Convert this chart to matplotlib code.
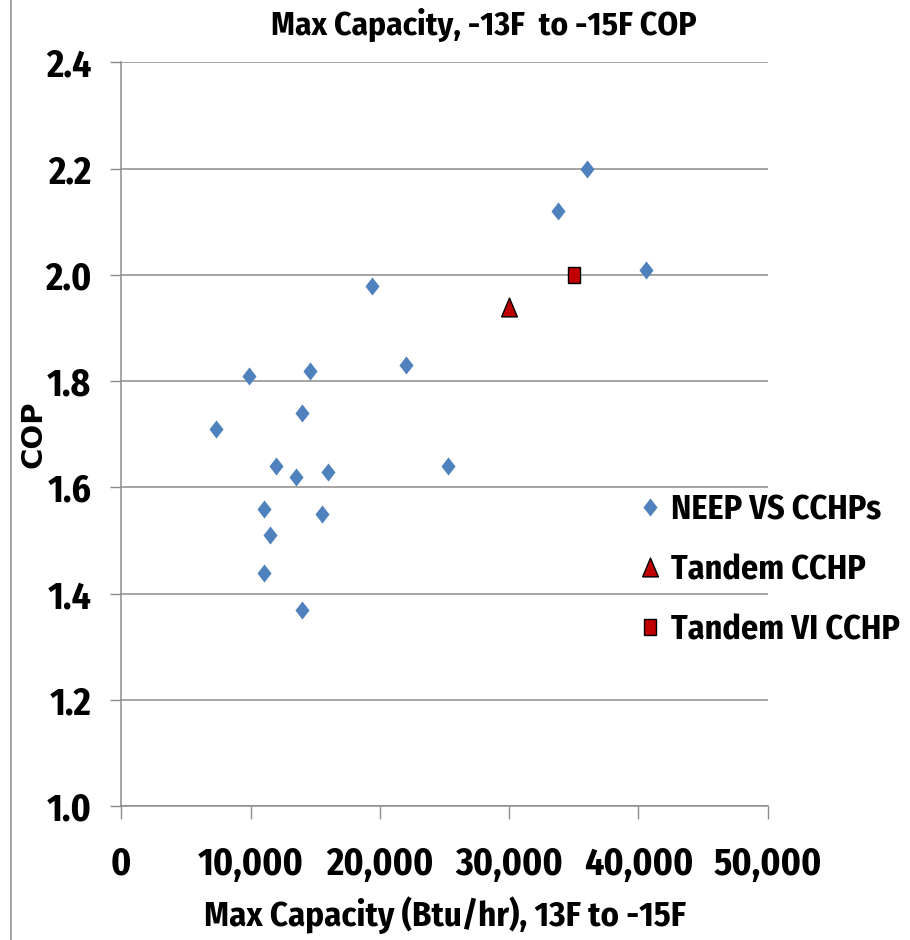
import matplotlib
matplotlib.use("Agg")
import matplotlib.pyplot as plt
from matplotlib import font_manager
from matplotlib.lines import Line2D

# NEEP cold-climate heat pumps: max capacity at -13F..-15F vs COP
neep_cap = [7300, 9900, 12000, 11000, 11500, 11000, 14000, 14600, 13500,
            16000, 15500, 14000, 19400, 22050, 25250, 33800, 36000, 40550]
neep_cop = [1.71, 1.81, 1.64, 1.56, 1.51, 1.44, 1.74, 1.82, 1.62,
            1.63, 1.55, 1.37, 1.98, 1.83, 1.64, 2.12, 2.20, 2.01]

tandem_cap = [30000]
tandem_cop = [1.94]

tandem_vi_cap = [35000]
tandem_vi_cop = [2.00]

x_ticks = [0, 10000, 20000, 30000, 40000, 50000]
y_ticks = [1.0, 1.2, 1.4, 1.6, 1.8, 2.0, 2.2, 2.4]

# pick a narrow humanist bold face if there is one
have = {f.name for f in font_manager.fontManager.ttflist}
narrow = [f for f in ["Fira Sans Condensed", "Barlow Condensed", "Carlito"] if f in have]
narrow = narrow[:1] + ["DejaVu Sans"]
grey = "#8c8c8c"

# taller-than-wide marker shapes, like the original
diamond = [(0, 0.5), (0.39, 0), (0, -0.5), (-0.39, 0), (0, 0.5)]
triangle = [(-0.42, -0.5), (0.42, -0.5), (0, 0.5), (-0.42, -0.5)]
square = [(-0.37, -0.5), (0.37, -0.5), (0.37, 0.5), (-0.37, 0.5), (-0.37, -0.5)]

fig = plt.figure(figsize=(9.1, 9.4), dpi=100)
ax = fig.add_axes([0.1333, 0.1422, 0.7104, 0.7915])

ax.plot(neep_cap, neep_cop, linestyle="none", marker=diamond, markersize=13,
        color="#4F81BD", markeredgewidth=0, label="NEEP VS CCHPs")
ax.plot(tandem_cap, tandem_cop, linestyle="none", marker=triangle, markersize=13.5,
        markerfacecolor="#C00000", markeredgecolor="black", markeredgewidth=1,
        label="Tandem CCHP")
ax.plot(tandem_vi_cap, tandem_vi_cop, linestyle="none", marker=square, markersize=11.5,
        markerfacecolor="#C00000", markeredgecolor="black", markeredgewidth=1,
        label="Tandem VI CCHP")

ax.set_xlim(0, 50000)
ax.set_ylim(1.0, 2.4)
ax.set_xticks(x_ticks)
ax.set_xticklabels([f"{v:,}" for v in x_ticks], family=narrow, weight="bold", fontsize=27)
ax.set_yticks(y_ticks)
ax.set_yticklabels([f"{v:.1f}" for v in y_ticks], family=narrow, weight="bold", fontsize=27)

ax.tick_params(axis="x", direction="out", length=9.5, width=1, color=grey, pad=19)
ax.tick_params(axis="y", direction="out", length=7.6, width=1, color=grey, pad=14)

ax.grid(axis="y", color=grey, linewidth=1.1)
ax.set_axisbelow(True)
for s in ["top", "right"]:
    ax.spines[s].set_visible(False)
for s in ["left", "bottom"]:
    ax.spines[s].set_color(grey)
    ax.spines[s].set_linewidth(1.1)

ax.set_xlabel("Max Capacity (Btu/hr), 13F to -15F", family=narrow, weight="bold",
              fontsize=25, va="center")
ax.xaxis.set_label_coords(0.5, -(915 - 806.3) / 744)
ax.set_ylabel("COP", family="DejaVu Sans", weight="bold", fontsize=21, va="center")
ax.yaxis.set_label_coords((34 - 121.3) / 646.4, (806.3 - 434) / 744)
fig.text(484 / 910, 1 - 25 / 940, "Max Capacity, -13F  to -15F COP", family=narrow,
         weight="bold", fontsize=24, ha="center", va="center")

fig.legend(loc="center left", bbox_to_anchor=(623 / 910, 1 - 570 / 940), frameon=False,
           prop={"family": narrow, "weight": "bold", "size": 24.5}, borderpad=0,
           handlelength=0.6, handletextpad=0.3, labelspacing=0.78)

fig.add_artist(Line2D([10.7 / 910, 10.7 / 910], [0, 1], color=grey, linewidth=1.1))

fig.savefig("out.png", dpi=100)
